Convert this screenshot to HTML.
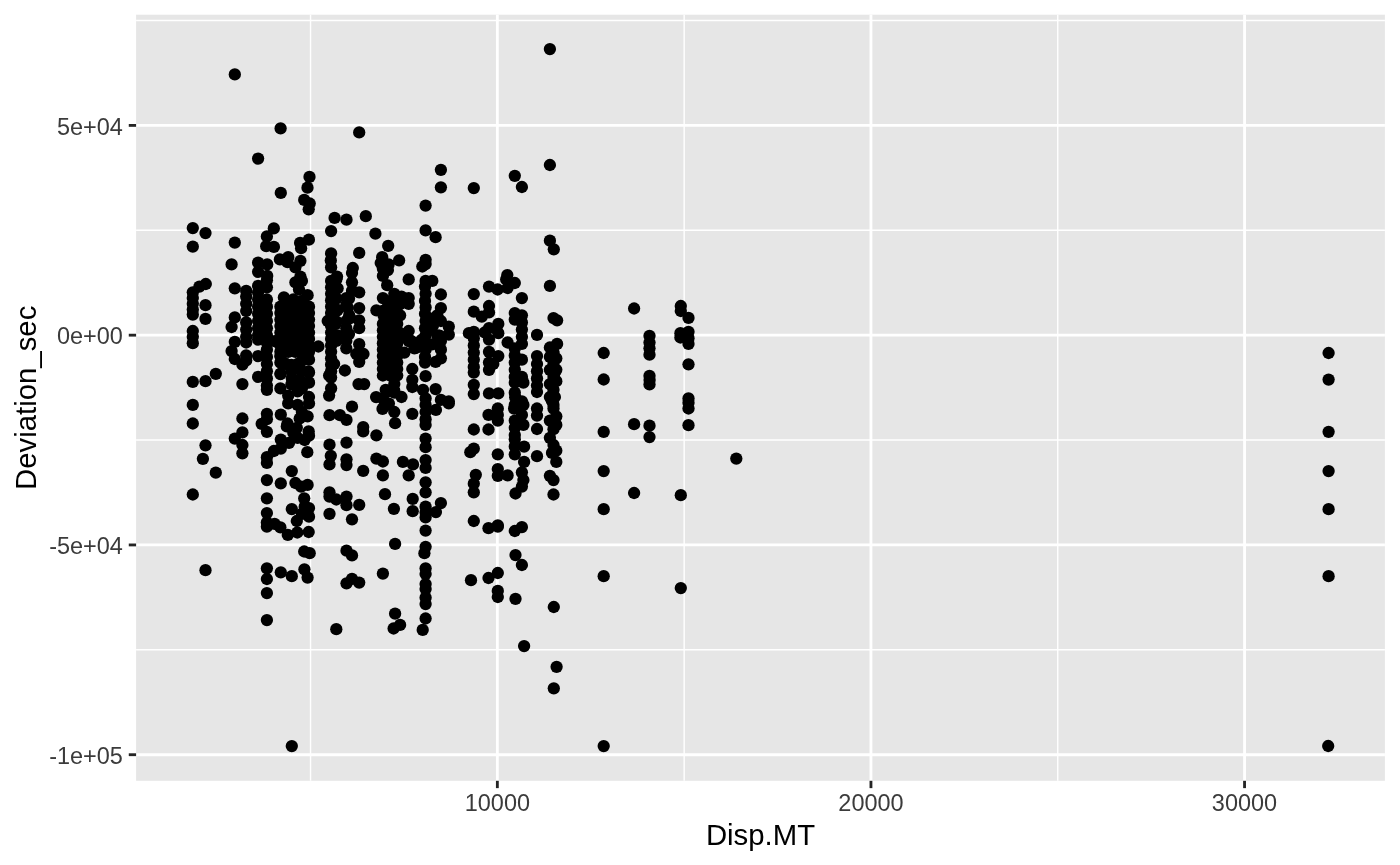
<!DOCTYPE html>
<html><head><meta charset="utf-8"><title>plot</title>
<style>
html,body{margin:0;padding:0;background:#fff;}
svg{display:block}
text{font-family:"Liberation Sans",Arial,Helvetica,sans-serif;}
.at{font-size:23.47px;fill:#3b3b3b}
.tt{font-size:29.33px;fill:#000}
</style></head><body>
<svg width="1400" height="865" viewBox="0 0 1400 865">
<rect width="1400" height="865" fill="#fff"/>
<rect x="136.1" y="14.7" width="1248.8000000000002" height="766.0999999999999" fill="#e6e6e6"/>
<g stroke="#fff" stroke-width="1.42">
<line x1="136.1" x2="1384.9" y1="20.51" y2="20.51"/>
<line x1="136.1" x2="1384.9" y1="230.29" y2="230.29"/>
<line x1="136.1" x2="1384.9" y1="440.06" y2="440.06"/>
<line x1="136.1" x2="1384.9" y1="649.83" y2="649.83"/>
<line y1="14.7" y2="780.8" x1="310.55" x2="310.55"/>
<line y1="14.7" y2="780.8" x1="684.15" x2="684.15"/>
<line y1="14.7" y2="780.8" x1="1057.75" x2="1057.75"/>
</g><g stroke="#fff" stroke-width="2.84">
<line x1="136.1" x2="1384.9" y1="125.40" y2="125.40"/>
<line x1="136.1" x2="1384.9" y1="335.17" y2="335.17"/>
<line x1="136.1" x2="1384.9" y1="544.94" y2="544.94"/>
<line x1="136.1" x2="1384.9" y1="754.71" y2="754.71"/>
<line y1="14.7" y2="780.8" x1="497.35" x2="497.35"/>
<line y1="14.7" y2="780.8" x1="870.95" x2="870.95"/>
<line y1="14.7" y2="780.8" x1="1244.55" x2="1244.55"/>
</g><g stroke="#242424" stroke-width="2.84">
<line x1="128.76999999999998" x2="136.1" y1="125.40" y2="125.40"/>
<line x1="128.76999999999998" x2="136.1" y1="335.17" y2="335.17"/>
<line x1="128.76999999999998" x2="136.1" y1="544.94" y2="544.94"/>
<line x1="128.76999999999998" x2="136.1" y1="754.71" y2="754.71"/>
<line y1="780.8" y2="788.13" x1="497.35" x2="497.35"/>
<line y1="780.8" y2="788.13" x1="870.95" x2="870.95"/>
<line y1="780.8" y2="788.13" x1="1244.55" x2="1244.55"/>
</g>
<text class="at" text-anchor="end" x="122.9" y="134.5">5e+04</text>
<text class="at" text-anchor="end" x="122.9" y="344.3">0e+00</text>
<text class="at" text-anchor="end" x="122.9" y="554.0">-5e+04</text>
<text class="at" text-anchor="end" x="122.9" y="763.8">-1e+05</text>
<text class="at" text-anchor="middle" x="497.4" y="811.3">10000</text>
<text class="at" text-anchor="middle" x="871.0" y="811.3">20000</text>
<text class="at" text-anchor="middle" x="1244.5" y="811.3">30000</text>
<text class="tt" text-anchor="middle" x="760.5" y="845">Disp.MT</text>
<text class="tt" text-anchor="middle" transform="translate(35.5,397.8) rotate(-90)">Deviation_sec</text>
<g fill="#000">
<circle cx="234.8" cy="74.4" r="6.15"/>
<circle cx="280.6" cy="128.4" r="6.15"/>
<circle cx="359.2" cy="132.4" r="6.15"/>
<circle cx="258.1" cy="158.6" r="6.15"/>
<circle cx="309.5" cy="176.9" r="6.15"/>
<circle cx="307.5" cy="187.7" r="6.15"/>
<circle cx="280.8" cy="192.9" r="6.15"/>
<circle cx="304.2" cy="199.9" r="6.15"/>
<circle cx="309.7" cy="203.5" r="6.15"/>
<circle cx="308.7" cy="209.3" r="6.15"/>
<circle cx="334.6" cy="217.9" r="6.15"/>
<circle cx="346.5" cy="219.7" r="6.15"/>
<circle cx="365.8" cy="216.2" r="6.15"/>
<circle cx="192.8" cy="228.1" r="6.15"/>
<circle cx="205.5" cy="233.1" r="6.15"/>
<circle cx="273.8" cy="228.4" r="6.15"/>
<circle cx="266.9" cy="236.4" r="6.15"/>
<circle cx="331.1" cy="231.1" r="6.15"/>
<circle cx="375.4" cy="233.7" r="6.15"/>
<circle cx="192.8" cy="246.6" r="6.15"/>
<circle cx="234.8" cy="242.6" r="6.15"/>
<circle cx="266.2" cy="246.2" r="6.15"/>
<circle cx="273.9" cy="246.9" r="6.15"/>
<circle cx="308.9" cy="239.7" r="6.15"/>
<circle cx="300.1" cy="242.9" r="6.15"/>
<circle cx="301.1" cy="248.2" r="6.15"/>
<circle cx="331.1" cy="253.4" r="6.15"/>
<circle cx="359.2" cy="252.8" r="6.15"/>
<circle cx="279.9" cy="259.4" r="6.15"/>
<circle cx="288.2" cy="257.2" r="6.15"/>
<circle cx="287.5" cy="262.2" r="6.15"/>
<circle cx="300.4" cy="260.8" r="6.15"/>
<circle cx="295.4" cy="267.3" r="6.15"/>
<circle cx="231.6" cy="264.4" r="6.15"/>
<circle cx="258.1" cy="262.7" r="6.15"/>
<circle cx="267.2" cy="264.4" r="6.15"/>
<circle cx="258.1" cy="271.8" r="6.15"/>
<circle cx="267.2" cy="275.9" r="6.15"/>
<circle cx="330.8" cy="260.4" r="6.15"/>
<circle cx="331.1" cy="267.3" r="6.15"/>
<circle cx="352.8" cy="268.0" r="6.15"/>
<circle cx="352.0" cy="273.0" r="6.15"/>
<circle cx="300.4" cy="276.6" r="6.15"/>
<circle cx="337.0" cy="276.6" r="6.15"/>
<circle cx="192.8" cy="292.3" r="6.15"/>
<circle cx="192.8" cy="298.1" r="6.15"/>
<circle cx="192.8" cy="303.8" r="6.15"/>
<circle cx="192.8" cy="309.5" r="6.15"/>
<circle cx="192.8" cy="314.6" r="6.15"/>
<circle cx="199.4" cy="286.6" r="6.15"/>
<circle cx="205.8" cy="284.0" r="6.15"/>
<circle cx="192.8" cy="331.0" r="6.15"/>
<circle cx="192.8" cy="336.8" r="6.15"/>
<circle cx="192.8" cy="343.2" r="6.15"/>
<circle cx="192.8" cy="381.9" r="6.15"/>
<circle cx="205.5" cy="305.2" r="6.15"/>
<circle cx="205.5" cy="318.9" r="6.15"/>
<circle cx="205.5" cy="381.2" r="6.15"/>
<circle cx="215.8" cy="373.8" r="6.15"/>
<circle cx="234.8" cy="288.3" r="6.15"/>
<circle cx="234.8" cy="317.4" r="6.15"/>
<circle cx="231.6" cy="327.0" r="6.15"/>
<circle cx="234.8" cy="341.8" r="6.15"/>
<circle cx="231.6" cy="351.1" r="6.15"/>
<circle cx="234.8" cy="359.0" r="6.15"/>
<circle cx="246.2" cy="290.9" r="6.15"/>
<circle cx="246.2" cy="296.6" r="6.15"/>
<circle cx="246.2" cy="303.8" r="6.15"/>
<circle cx="246.2" cy="311.0" r="6.15"/>
<circle cx="246.2" cy="322.4" r="6.15"/>
<circle cx="246.2" cy="329.6" r="6.15"/>
<circle cx="246.2" cy="336.8" r="6.15"/>
<circle cx="246.2" cy="342.5" r="6.15"/>
<circle cx="246.2" cy="355.4" r="6.15"/>
<circle cx="246.2" cy="360.4" r="6.15"/>
<circle cx="242.4" cy="364.7" r="6.15"/>
<circle cx="242.4" cy="384.1" r="6.15"/>
<circle cx="258.1" cy="285.9" r="6.15"/>
<circle cx="258.1" cy="292.3" r="6.15"/>
<circle cx="258.1" cy="299.5" r="6.15"/>
<circle cx="258.1" cy="306.7" r="6.15"/>
<circle cx="258.1" cy="313.8" r="6.15"/>
<circle cx="258.1" cy="321.0" r="6.15"/>
<circle cx="258.1" cy="328.2" r="6.15"/>
<circle cx="258.1" cy="335.3" r="6.15"/>
<circle cx="258.1" cy="339.6" r="6.15"/>
<circle cx="258.1" cy="356.1" r="6.15"/>
<circle cx="258.1" cy="376.9" r="6.15"/>
<circle cx="266.9" cy="280.2" r="6.15"/>
<circle cx="266.9" cy="287.3" r="6.15"/>
<circle cx="266.9" cy="299.5" r="6.15"/>
<circle cx="266.9" cy="306.7" r="6.15"/>
<circle cx="266.9" cy="313.8" r="6.15"/>
<circle cx="266.9" cy="321.0" r="6.15"/>
<circle cx="266.9" cy="328.2" r="6.15"/>
<circle cx="266.9" cy="335.3" r="6.15"/>
<circle cx="266.9" cy="342.5" r="6.15"/>
<circle cx="266.9" cy="349.7" r="6.15"/>
<circle cx="266.9" cy="356.9" r="6.15"/>
<circle cx="266.9" cy="364.0" r="6.15"/>
<circle cx="266.9" cy="371.2" r="6.15"/>
<circle cx="266.9" cy="378.4" r="6.15"/>
<circle cx="266.9" cy="385.5" r="6.15"/>
<circle cx="266.9" cy="389.8" r="6.15"/>
<circle cx="280.4" cy="306.7" r="6.15"/>
<circle cx="280.4" cy="313.1" r="6.15"/>
<circle cx="280.4" cy="319.6" r="6.15"/>
<circle cx="280.4" cy="326.0" r="6.15"/>
<circle cx="280.4" cy="332.5" r="6.15"/>
<circle cx="280.4" cy="338.9" r="6.15"/>
<circle cx="280.4" cy="345.4" r="6.15"/>
<circle cx="280.4" cy="351.8" r="6.15"/>
<circle cx="288.2" cy="306.7" r="6.15"/>
<circle cx="288.2" cy="313.1" r="6.15"/>
<circle cx="288.2" cy="319.6" r="6.15"/>
<circle cx="288.2" cy="326.0" r="6.15"/>
<circle cx="288.2" cy="332.5" r="6.15"/>
<circle cx="288.2" cy="338.9" r="6.15"/>
<circle cx="288.2" cy="345.4" r="6.15"/>
<circle cx="288.2" cy="351.8" r="6.15"/>
<circle cx="295.4" cy="306.7" r="6.15"/>
<circle cx="295.4" cy="313.1" r="6.15"/>
<circle cx="295.4" cy="319.6" r="6.15"/>
<circle cx="295.4" cy="326.0" r="6.15"/>
<circle cx="295.4" cy="332.5" r="6.15"/>
<circle cx="295.4" cy="338.9" r="6.15"/>
<circle cx="295.4" cy="345.4" r="6.15"/>
<circle cx="295.4" cy="351.8" r="6.15"/>
<circle cx="301.9" cy="306.7" r="6.15"/>
<circle cx="301.9" cy="313.1" r="6.15"/>
<circle cx="301.9" cy="319.6" r="6.15"/>
<circle cx="301.9" cy="326.0" r="6.15"/>
<circle cx="301.9" cy="332.5" r="6.15"/>
<circle cx="301.9" cy="338.9" r="6.15"/>
<circle cx="301.9" cy="345.4" r="6.15"/>
<circle cx="301.9" cy="351.8" r="6.15"/>
<circle cx="309.0" cy="306.7" r="6.15"/>
<circle cx="309.0" cy="313.1" r="6.15"/>
<circle cx="309.0" cy="319.6" r="6.15"/>
<circle cx="309.0" cy="326.0" r="6.15"/>
<circle cx="309.0" cy="332.5" r="6.15"/>
<circle cx="309.0" cy="338.9" r="6.15"/>
<circle cx="309.0" cy="345.4" r="6.15"/>
<circle cx="309.0" cy="351.8" r="6.15"/>
<circle cx="295.4" cy="282.3" r="6.15"/>
<circle cx="301.9" cy="280.9" r="6.15"/>
<circle cx="299.0" cy="289.5" r="6.15"/>
<circle cx="307.6" cy="295.2" r="6.15"/>
<circle cx="283.9" cy="297.4" r="6.15"/>
<circle cx="293.3" cy="299.5" r="6.15"/>
<circle cx="301.9" cy="300.9" r="6.15"/>
<circle cx="280.4" cy="356.1" r="6.15"/>
<circle cx="280.4" cy="362.6" r="6.15"/>
<circle cx="280.4" cy="374.1" r="6.15"/>
<circle cx="280.4" cy="388.4" r="6.15"/>
<circle cx="274.6" cy="341.1" r="6.15"/>
<circle cx="309.0" cy="359.7" r="6.15"/>
<circle cx="297.6" cy="364.0" r="6.15"/>
<circle cx="309.0" cy="372.6" r="6.15"/>
<circle cx="291.8" cy="371.2" r="6.15"/>
<circle cx="301.9" cy="371.2" r="6.15"/>
<circle cx="291.8" cy="378.4" r="6.15"/>
<circle cx="309.0" cy="382.7" r="6.15"/>
<circle cx="297.6" cy="384.1" r="6.15"/>
<circle cx="301.9" cy="388.4" r="6.15"/>
<circle cx="297.6" cy="391.3" r="6.15"/>
<circle cx="288.2" cy="395.6" r="6.15"/>
<circle cx="309.0" cy="397.0" r="6.15"/>
<circle cx="286.1" cy="364.0" r="6.15"/>
<circle cx="318.4" cy="346.5" r="6.15"/>
<circle cx="331.1" cy="280.9" r="6.15"/>
<circle cx="331.1" cy="287.3" r="6.15"/>
<circle cx="331.1" cy="293.8" r="6.15"/>
<circle cx="331.1" cy="300.2" r="6.15"/>
<circle cx="331.1" cy="306.7" r="6.15"/>
<circle cx="331.1" cy="313.1" r="6.15"/>
<circle cx="331.1" cy="319.6" r="6.15"/>
<circle cx="331.1" cy="326.0" r="6.15"/>
<circle cx="331.1" cy="332.5" r="6.15"/>
<circle cx="331.1" cy="338.9" r="6.15"/>
<circle cx="331.1" cy="345.4" r="6.15"/>
<circle cx="331.1" cy="351.8" r="6.15"/>
<circle cx="331.1" cy="358.3" r="6.15"/>
<circle cx="331.1" cy="364.7" r="6.15"/>
<circle cx="331.1" cy="371.2" r="6.15"/>
<circle cx="331.1" cy="377.6" r="6.15"/>
<circle cx="334.8" cy="283.7" r="6.15"/>
<circle cx="334.1" cy="296.6" r="6.15"/>
<circle cx="336.3" cy="311.0" r="6.15"/>
<circle cx="337.7" cy="335.3" r="6.15"/>
<circle cx="334.1" cy="364.0" r="6.15"/>
<circle cx="329.1" cy="375.5" r="6.15"/>
<circle cx="331.1" cy="388.4" r="6.15"/>
<circle cx="329.1" cy="395.6" r="6.15"/>
<circle cx="327.7" cy="321.0" r="6.15"/>
<circle cx="335.6" cy="323.9" r="6.15"/>
<circle cx="352.0" cy="282.3" r="6.15"/>
<circle cx="359.2" cy="292.3" r="6.15"/>
<circle cx="346.3" cy="298.1" r="6.15"/>
<circle cx="346.3" cy="305.2" r="6.15"/>
<circle cx="359.2" cy="308.1" r="6.15"/>
<circle cx="349.2" cy="315.3" r="6.15"/>
<circle cx="359.2" cy="320.3" r="6.15"/>
<circle cx="346.3" cy="321.0" r="6.15"/>
<circle cx="359.2" cy="328.2" r="6.15"/>
<circle cx="346.3" cy="328.2" r="6.15"/>
<circle cx="346.3" cy="335.3" r="6.15"/>
<circle cx="346.3" cy="341.1" r="6.15"/>
<circle cx="346.3" cy="348.3" r="6.15"/>
<circle cx="359.2" cy="344.2" r="6.15"/>
<circle cx="356.3" cy="354.0" r="6.15"/>
<circle cx="363.5" cy="354.0" r="6.15"/>
<circle cx="359.2" cy="361.9" r="6.15"/>
<circle cx="344.9" cy="370.5" r="6.15"/>
<circle cx="358.5" cy="384.1" r="6.15"/>
<circle cx="364.2" cy="384.1" r="6.15"/>
<circle cx="352.0" cy="290.9" r="6.15"/>
<circle cx="376.4" cy="310.3" r="6.15"/>
<circle cx="192.8" cy="404.9" r="6.15"/>
<circle cx="192.8" cy="423.5" r="6.15"/>
<circle cx="192.8" cy="494.5" r="6.15"/>
<circle cx="205.5" cy="445.3" r="6.15"/>
<circle cx="202.9" cy="458.8" r="6.15"/>
<circle cx="215.8" cy="472.7" r="6.15"/>
<circle cx="242.4" cy="418.5" r="6.15"/>
<circle cx="242.4" cy="432.4" r="6.15"/>
<circle cx="234.8" cy="438.6" r="6.15"/>
<circle cx="242.4" cy="445.0" r="6.15"/>
<circle cx="242.4" cy="453.3" r="6.15"/>
<circle cx="266.9" cy="413.8" r="6.15"/>
<circle cx="261.7" cy="423.8" r="6.15"/>
<circle cx="266.9" cy="419.2" r="6.15"/>
<circle cx="266.9" cy="431.8" r="6.15"/>
<circle cx="266.9" cy="457.2" r="6.15"/>
<circle cx="266.9" cy="462.9" r="6.15"/>
<circle cx="266.9" cy="480.1" r="6.15"/>
<circle cx="266.9" cy="498.3" r="6.15"/>
<circle cx="266.9" cy="513.1" r="6.15"/>
<circle cx="266.9" cy="522.4" r="6.15"/>
<circle cx="274.6" cy="523.9" r="6.15"/>
<circle cx="280.8" cy="414.6" r="6.15"/>
<circle cx="287.5" cy="423.5" r="6.15"/>
<circle cx="286.8" cy="426.4" r="6.15"/>
<circle cx="280.8" cy="439.6" r="6.15"/>
<circle cx="289.0" cy="442.9" r="6.15"/>
<circle cx="280.8" cy="448.6" r="6.15"/>
<circle cx="273.9" cy="451.0" r="6.15"/>
<circle cx="288.2" cy="403.4" r="6.15"/>
<circle cx="297.6" cy="404.9" r="6.15"/>
<circle cx="309.0" cy="403.4" r="6.15"/>
<circle cx="301.9" cy="412.0" r="6.15"/>
<circle cx="307.6" cy="416.3" r="6.15"/>
<circle cx="299.7" cy="418.5" r="6.15"/>
<circle cx="296.8" cy="427.8" r="6.15"/>
<circle cx="293.3" cy="432.8" r="6.15"/>
<circle cx="297.6" cy="437.8" r="6.15"/>
<circle cx="304.7" cy="440.0" r="6.15"/>
<circle cx="308.7" cy="431.4" r="6.15"/>
<circle cx="309.0" cy="435.7" r="6.15"/>
<circle cx="307.3" cy="452.2" r="6.15"/>
<circle cx="291.8" cy="471.1" r="6.15"/>
<circle cx="280.8" cy="483.3" r="6.15"/>
<circle cx="295.4" cy="483.0" r="6.15"/>
<circle cx="301.1" cy="486.6" r="6.15"/>
<circle cx="307.6" cy="484.9" r="6.15"/>
<circle cx="304.2" cy="498.3" r="6.15"/>
<circle cx="291.8" cy="509.1" r="6.15"/>
<circle cx="304.7" cy="506.7" r="6.15"/>
<circle cx="309.0" cy="508.1" r="6.15"/>
<circle cx="309.0" cy="516.7" r="6.15"/>
<circle cx="296.8" cy="521.0" r="6.15"/>
<circle cx="301.9" cy="513.8" r="6.15"/>
<circle cx="329.5" cy="415.2" r="6.15"/>
<circle cx="339.9" cy="415.2" r="6.15"/>
<circle cx="346.5" cy="419.9" r="6.15"/>
<circle cx="352.0" cy="406.7" r="6.15"/>
<circle cx="363.2" cy="427.1" r="6.15"/>
<circle cx="363.2" cy="431.4" r="6.15"/>
<circle cx="376.4" cy="435.3" r="6.15"/>
<circle cx="329.5" cy="444.7" r="6.15"/>
<circle cx="346.5" cy="442.6" r="6.15"/>
<circle cx="330.8" cy="455.8" r="6.15"/>
<circle cx="329.5" cy="464.4" r="6.15"/>
<circle cx="346.5" cy="459.3" r="6.15"/>
<circle cx="346.5" cy="465.1" r="6.15"/>
<circle cx="363.2" cy="470.8" r="6.15"/>
<circle cx="376.4" cy="458.6" r="6.15"/>
<circle cx="329.5" cy="492.3" r="6.15"/>
<circle cx="329.5" cy="496.6" r="6.15"/>
<circle cx="336.3" cy="499.5" r="6.15"/>
<circle cx="346.5" cy="496.6" r="6.15"/>
<circle cx="346.5" cy="505.2" r="6.15"/>
<circle cx="359.2" cy="504.9" r="6.15"/>
<circle cx="329.5" cy="513.8" r="6.15"/>
<circle cx="352.0" cy="519.3" r="6.15"/>
<circle cx="266.9" cy="526.7" r="6.15"/>
<circle cx="280.4" cy="527.4" r="6.15"/>
<circle cx="287.8" cy="534.9" r="6.15"/>
<circle cx="297.3" cy="532.5" r="6.15"/>
<circle cx="308.7" cy="532.0" r="6.15"/>
<circle cx="304.2" cy="551.5" r="6.15"/>
<circle cx="309.7" cy="553.2" r="6.15"/>
<circle cx="346.5" cy="550.7" r="6.15"/>
<circle cx="352.0" cy="555.4" r="6.15"/>
<circle cx="205.5" cy="570.2" r="6.15"/>
<circle cx="266.9" cy="568.3" r="6.15"/>
<circle cx="266.9" cy="579.0" r="6.15"/>
<circle cx="280.8" cy="572.3" r="6.15"/>
<circle cx="291.8" cy="576.2" r="6.15"/>
<circle cx="304.4" cy="569.3" r="6.15"/>
<circle cx="307.6" cy="577.6" r="6.15"/>
<circle cx="346.5" cy="583.3" r="6.15"/>
<circle cx="352.0" cy="578.8" r="6.15"/>
<circle cx="359.2" cy="582.6" r="6.15"/>
<circle cx="266.9" cy="593.1" r="6.15"/>
<circle cx="266.9" cy="620.1" r="6.15"/>
<circle cx="336.3" cy="629.2" r="6.15"/>
<circle cx="291.8" cy="746.1" r="6.15"/>
<circle cx="549.9" cy="49.1" r="6.15"/>
<circle cx="440.9" cy="169.8" r="6.15"/>
<circle cx="440.9" cy="187.3" r="6.15"/>
<circle cx="473.8" cy="188.1" r="6.15"/>
<circle cx="514.8" cy="175.8" r="6.15"/>
<circle cx="521.9" cy="187.0" r="6.15"/>
<circle cx="549.9" cy="165.0" r="6.15"/>
<circle cx="425.6" cy="205.6" r="6.15"/>
<circle cx="425.6" cy="230.4" r="6.15"/>
<circle cx="435.6" cy="237.2" r="6.15"/>
<circle cx="549.9" cy="240.7" r="6.15"/>
<circle cx="553.8" cy="249.3" r="6.15"/>
<circle cx="388.2" cy="245.8" r="6.15"/>
<circle cx="399.1" cy="260.4" r="6.15"/>
<circle cx="425.6" cy="259.8" r="6.15"/>
<circle cx="425.6" cy="264.1" r="6.15"/>
<circle cx="422.3" cy="266.5" r="6.15"/>
<circle cx="382.2" cy="257.2" r="6.15"/>
<circle cx="388.6" cy="264.4" r="6.15"/>
<circle cx="382.9" cy="268.7" r="6.15"/>
<circle cx="387.9" cy="270.1" r="6.15"/>
<circle cx="382.9" cy="275.9" r="6.15"/>
<circle cx="507.3" cy="275.1" r="6.15"/>
<circle cx="380.7" cy="263.0" r="6.15"/>
<circle cx="408.7" cy="279.4" r="6.15"/>
<circle cx="425.6" cy="280.9" r="6.15"/>
<circle cx="432.3" cy="280.9" r="6.15"/>
<circle cx="387.2" cy="285.2" r="6.15"/>
<circle cx="382.9" cy="298.1" r="6.15"/>
<circle cx="394.3" cy="293.8" r="6.15"/>
<circle cx="401.5" cy="296.6" r="6.15"/>
<circle cx="408.7" cy="298.1" r="6.15"/>
<circle cx="408.7" cy="303.8" r="6.15"/>
<circle cx="391.5" cy="305.2" r="6.15"/>
<circle cx="382.9" cy="311.0" r="6.15"/>
<circle cx="394.3" cy="312.4" r="6.15"/>
<circle cx="400.1" cy="315.3" r="6.15"/>
<circle cx="382.9" cy="323.9" r="6.15"/>
<circle cx="382.9" cy="330.3" r="6.15"/>
<circle cx="382.9" cy="336.8" r="6.15"/>
<circle cx="382.9" cy="343.2" r="6.15"/>
<circle cx="382.9" cy="349.7" r="6.15"/>
<circle cx="382.9" cy="356.1" r="6.15"/>
<circle cx="382.9" cy="362.6" r="6.15"/>
<circle cx="382.9" cy="369.0" r="6.15"/>
<circle cx="382.9" cy="375.5" r="6.15"/>
<circle cx="390.0" cy="323.9" r="6.15"/>
<circle cx="390.0" cy="330.3" r="6.15"/>
<circle cx="390.0" cy="336.8" r="6.15"/>
<circle cx="390.0" cy="343.2" r="6.15"/>
<circle cx="390.0" cy="349.7" r="6.15"/>
<circle cx="390.0" cy="356.1" r="6.15"/>
<circle cx="390.0" cy="362.6" r="6.15"/>
<circle cx="390.0" cy="369.0" r="6.15"/>
<circle cx="390.0" cy="375.5" r="6.15"/>
<circle cx="397.2" cy="323.9" r="6.15"/>
<circle cx="397.2" cy="330.3" r="6.15"/>
<circle cx="397.2" cy="336.8" r="6.15"/>
<circle cx="397.2" cy="343.2" r="6.15"/>
<circle cx="397.2" cy="349.7" r="6.15"/>
<circle cx="397.2" cy="356.1" r="6.15"/>
<circle cx="397.2" cy="362.6" r="6.15"/>
<circle cx="397.2" cy="369.0" r="6.15"/>
<circle cx="397.2" cy="375.5" r="6.15"/>
<circle cx="408.7" cy="331.0" r="6.15"/>
<circle cx="408.7" cy="341.1" r="6.15"/>
<circle cx="404.4" cy="352.6" r="6.15"/>
<circle cx="414.4" cy="348.3" r="6.15"/>
<circle cx="394.3" cy="384.1" r="6.15"/>
<circle cx="385.7" cy="389.8" r="6.15"/>
<circle cx="394.3" cy="392.7" r="6.15"/>
<circle cx="401.5" cy="397.0" r="6.15"/>
<circle cx="382.9" cy="398.4" r="6.15"/>
<circle cx="412.3" cy="369.0" r="6.15"/>
<circle cx="412.3" cy="379.8" r="6.15"/>
<circle cx="412.3" cy="387.0" r="6.15"/>
<circle cx="425.0" cy="286.6" r="6.15"/>
<circle cx="425.6" cy="293.8" r="6.15"/>
<circle cx="425.0" cy="300.9" r="6.15"/>
<circle cx="425.6" cy="307.4" r="6.15"/>
<circle cx="425.0" cy="313.8" r="6.15"/>
<circle cx="425.6" cy="321.0" r="6.15"/>
<circle cx="425.0" cy="328.2" r="6.15"/>
<circle cx="425.6" cy="335.3" r="6.15"/>
<circle cx="425.0" cy="342.5" r="6.15"/>
<circle cx="425.6" cy="349.7" r="6.15"/>
<circle cx="425.0" cy="356.9" r="6.15"/>
<circle cx="425.0" cy="362.6" r="6.15"/>
<circle cx="425.6" cy="376.2" r="6.15"/>
<circle cx="423.0" cy="389.8" r="6.15"/>
<circle cx="425.6" cy="398.4" r="6.15"/>
<circle cx="435.6" cy="389.1" r="6.15"/>
<circle cx="440.9" cy="399.9" r="6.15"/>
<circle cx="448.8" cy="401.3" r="6.15"/>
<circle cx="440.9" cy="294.5" r="6.15"/>
<circle cx="440.9" cy="308.1" r="6.15"/>
<circle cx="437.3" cy="315.3" r="6.15"/>
<circle cx="440.9" cy="321.0" r="6.15"/>
<circle cx="448.8" cy="326.7" r="6.15"/>
<circle cx="448.8" cy="334.6" r="6.15"/>
<circle cx="437.3" cy="335.3" r="6.15"/>
<circle cx="440.9" cy="341.1" r="6.15"/>
<circle cx="440.9" cy="349.7" r="6.15"/>
<circle cx="440.9" cy="358.3" r="6.15"/>
<circle cx="435.6" cy="361.9" r="6.15"/>
<circle cx="433.0" cy="325.3" r="6.15"/>
<circle cx="473.8" cy="294.1" r="6.15"/>
<circle cx="473.8" cy="311.7" r="6.15"/>
<circle cx="481.8" cy="316.7" r="6.15"/>
<circle cx="489.0" cy="312.4" r="6.15"/>
<circle cx="489.0" cy="306.0" r="6.15"/>
<circle cx="473.8" cy="331.8" r="6.15"/>
<circle cx="468.9" cy="333.2" r="6.15"/>
<circle cx="473.8" cy="338.2" r="6.15"/>
<circle cx="473.8" cy="345.4" r="6.15"/>
<circle cx="473.8" cy="352.6" r="6.15"/>
<circle cx="473.8" cy="359.7" r="6.15"/>
<circle cx="473.8" cy="366.9" r="6.15"/>
<circle cx="473.8" cy="372.6" r="6.15"/>
<circle cx="473.8" cy="384.8" r="6.15"/>
<circle cx="473.8" cy="394.1" r="6.15"/>
<circle cx="489.0" cy="286.6" r="6.15"/>
<circle cx="497.6" cy="289.5" r="6.15"/>
<circle cx="507.6" cy="288.0" r="6.15"/>
<circle cx="514.8" cy="283.0" r="6.15"/>
<circle cx="506.2" cy="279.4" r="6.15"/>
<circle cx="498.3" cy="323.9" r="6.15"/>
<circle cx="489.0" cy="328.2" r="6.15"/>
<circle cx="498.3" cy="333.2" r="6.15"/>
<circle cx="489.0" cy="339.6" r="6.15"/>
<circle cx="484.7" cy="332.5" r="6.15"/>
<circle cx="489.0" cy="351.8" r="6.15"/>
<circle cx="498.3" cy="356.1" r="6.15"/>
<circle cx="489.0" cy="362.6" r="6.15"/>
<circle cx="493.3" cy="364.0" r="6.15"/>
<circle cx="489.0" cy="369.8" r="6.15"/>
<circle cx="489.0" cy="393.4" r="6.15"/>
<circle cx="498.3" cy="393.4" r="6.15"/>
<circle cx="521.9" cy="298.1" r="6.15"/>
<circle cx="514.8" cy="313.1" r="6.15"/>
<circle cx="521.9" cy="315.3" r="6.15"/>
<circle cx="514.8" cy="319.6" r="6.15"/>
<circle cx="521.9" cy="322.4" r="6.15"/>
<circle cx="521.9" cy="329.6" r="6.15"/>
<circle cx="521.9" cy="336.8" r="6.15"/>
<circle cx="521.9" cy="343.9" r="6.15"/>
<circle cx="507.6" cy="342.5" r="6.15"/>
<circle cx="514.8" cy="348.3" r="6.15"/>
<circle cx="514.8" cy="355.4" r="6.15"/>
<circle cx="521.9" cy="359.7" r="6.15"/>
<circle cx="514.8" cy="362.6" r="6.15"/>
<circle cx="514.8" cy="369.8" r="6.15"/>
<circle cx="521.9" cy="376.9" r="6.15"/>
<circle cx="514.8" cy="376.9" r="6.15"/>
<circle cx="514.8" cy="382.7" r="6.15"/>
<circle cx="523.4" cy="382.7" r="6.15"/>
<circle cx="514.8" cy="392.7" r="6.15"/>
<circle cx="521.9" cy="401.3" r="6.15"/>
<circle cx="537.0" cy="334.9" r="6.15"/>
<circle cx="537.0" cy="356.1" r="6.15"/>
<circle cx="537.0" cy="364.0" r="6.15"/>
<circle cx="537.0" cy="371.2" r="6.15"/>
<circle cx="537.0" cy="378.4" r="6.15"/>
<circle cx="537.0" cy="385.5" r="6.15"/>
<circle cx="537.0" cy="392.0" r="6.15"/>
<circle cx="549.9" cy="285.9" r="6.15"/>
<circle cx="553.5" cy="318.1" r="6.15"/>
<circle cx="557.1" cy="320.3" r="6.15"/>
<circle cx="557.1" cy="343.9" r="6.15"/>
<circle cx="549.9" cy="347.5" r="6.15"/>
<circle cx="553.5" cy="352.6" r="6.15"/>
<circle cx="549.9" cy="356.9" r="6.15"/>
<circle cx="556.3" cy="358.3" r="6.15"/>
<circle cx="553.5" cy="364.0" r="6.15"/>
<circle cx="549.9" cy="369.8" r="6.15"/>
<circle cx="556.3" cy="369.8" r="6.15"/>
<circle cx="553.5" cy="376.9" r="6.15"/>
<circle cx="549.9" cy="384.1" r="6.15"/>
<circle cx="556.3" cy="381.2" r="6.15"/>
<circle cx="553.5" cy="389.8" r="6.15"/>
<circle cx="549.9" cy="397.0" r="6.15"/>
<circle cx="554.9" cy="397.0" r="6.15"/>
<circle cx="384.3" cy="406.3" r="6.15"/>
<circle cx="394.3" cy="412.0" r="6.15"/>
<circle cx="395.1" cy="423.2" r="6.15"/>
<circle cx="412.3" cy="413.8" r="6.15"/>
<circle cx="382.9" cy="461.5" r="6.15"/>
<circle cx="382.9" cy="475.4" r="6.15"/>
<circle cx="385.0" cy="494.2" r="6.15"/>
<circle cx="393.9" cy="508.8" r="6.15"/>
<circle cx="402.9" cy="461.9" r="6.15"/>
<circle cx="413.0" cy="464.4" r="6.15"/>
<circle cx="408.7" cy="475.4" r="6.15"/>
<circle cx="412.7" cy="498.9" r="6.15"/>
<circle cx="412.7" cy="511.2" r="6.15"/>
<circle cx="425.6" cy="404.9" r="6.15"/>
<circle cx="425.6" cy="412.0" r="6.15"/>
<circle cx="425.6" cy="419.2" r="6.15"/>
<circle cx="425.6" cy="424.9" r="6.15"/>
<circle cx="425.6" cy="438.6" r="6.15"/>
<circle cx="425.6" cy="447.2" r="6.15"/>
<circle cx="425.6" cy="460.1" r="6.15"/>
<circle cx="425.6" cy="467.9" r="6.15"/>
<circle cx="425.6" cy="482.3" r="6.15"/>
<circle cx="425.6" cy="492.3" r="6.15"/>
<circle cx="425.6" cy="506.7" r="6.15"/>
<circle cx="425.6" cy="512.4" r="6.15"/>
<circle cx="425.6" cy="517.4" r="6.15"/>
<circle cx="435.9" cy="409.9" r="6.15"/>
<circle cx="448.8" cy="403.4" r="6.15"/>
<circle cx="440.9" cy="503.1" r="6.15"/>
<circle cx="435.9" cy="512.1" r="6.15"/>
<circle cx="473.8" cy="429.5" r="6.15"/>
<circle cx="473.8" cy="448.6" r="6.15"/>
<circle cx="470.3" cy="452.2" r="6.15"/>
<circle cx="475.8" cy="474.8" r="6.15"/>
<circle cx="473.8" cy="483.7" r="6.15"/>
<circle cx="473.8" cy="492.3" r="6.15"/>
<circle cx="473.8" cy="521.0" r="6.15"/>
<circle cx="488.5" cy="414.9" r="6.15"/>
<circle cx="488.5" cy="429.5" r="6.15"/>
<circle cx="497.8" cy="408.5" r="6.15"/>
<circle cx="497.8" cy="414.9" r="6.15"/>
<circle cx="497.8" cy="420.6" r="6.15"/>
<circle cx="497.8" cy="454.3" r="6.15"/>
<circle cx="497.8" cy="469.1" r="6.15"/>
<circle cx="497.8" cy="475.8" r="6.15"/>
<circle cx="507.6" cy="475.4" r="6.15"/>
<circle cx="497.8" cy="525.3" r="6.15"/>
<circle cx="514.8" cy="404.9" r="6.15"/>
<circle cx="523.4" cy="404.9" r="6.15"/>
<circle cx="521.9" cy="414.9" r="6.15"/>
<circle cx="514.8" cy="420.6" r="6.15"/>
<circle cx="523.4" cy="424.9" r="6.15"/>
<circle cx="514.8" cy="435.0" r="6.15"/>
<circle cx="514.8" cy="439.3" r="6.15"/>
<circle cx="514.8" cy="446.4" r="6.15"/>
<circle cx="524.1" cy="446.7" r="6.15"/>
<circle cx="514.8" cy="454.3" r="6.15"/>
<circle cx="524.1" cy="461.9" r="6.15"/>
<circle cx="521.9" cy="472.3" r="6.15"/>
<circle cx="523.4" cy="480.1" r="6.15"/>
<circle cx="521.9" cy="486.6" r="6.15"/>
<circle cx="515.5" cy="493.5" r="6.15"/>
<circle cx="514.8" cy="427.8" r="6.15"/>
<circle cx="537.0" cy="408.5" r="6.15"/>
<circle cx="537.0" cy="415.6" r="6.15"/>
<circle cx="537.0" cy="429.0" r="6.15"/>
<circle cx="537.0" cy="456.2" r="6.15"/>
<circle cx="553.5" cy="404.9" r="6.15"/>
<circle cx="556.3" cy="416.3" r="6.15"/>
<circle cx="549.9" cy="420.6" r="6.15"/>
<circle cx="556.3" cy="424.9" r="6.15"/>
<circle cx="553.5" cy="429.2" r="6.15"/>
<circle cx="549.9" cy="437.8" r="6.15"/>
<circle cx="553.5" cy="445.0" r="6.15"/>
<circle cx="556.3" cy="450.7" r="6.15"/>
<circle cx="552.0" cy="452.9" r="6.15"/>
<circle cx="556.3" cy="461.9" r="6.15"/>
<circle cx="549.9" cy="475.8" r="6.15"/>
<circle cx="553.5" cy="480.1" r="6.15"/>
<circle cx="553.5" cy="494.5" r="6.15"/>
<circle cx="425.6" cy="530.6" r="6.15"/>
<circle cx="395.1" cy="543.9" r="6.15"/>
<circle cx="425.6" cy="546.8" r="6.15"/>
<circle cx="424.4" cy="553.2" r="6.15"/>
<circle cx="425.6" cy="568.3" r="6.15"/>
<circle cx="425.6" cy="574.0" r="6.15"/>
<circle cx="425.6" cy="584.1" r="6.15"/>
<circle cx="425.6" cy="589.1" r="6.15"/>
<circle cx="425.6" cy="597.7" r="6.15"/>
<circle cx="425.6" cy="604.1" r="6.15"/>
<circle cx="425.6" cy="618.5" r="6.15"/>
<circle cx="422.7" cy="629.9" r="6.15"/>
<circle cx="382.9" cy="573.6" r="6.15"/>
<circle cx="395.1" cy="613.7" r="6.15"/>
<circle cx="400.1" cy="624.9" r="6.15"/>
<circle cx="393.6" cy="628.5" r="6.15"/>
<circle cx="488.5" cy="528.2" r="6.15"/>
<circle cx="497.8" cy="526.7" r="6.15"/>
<circle cx="514.8" cy="531.0" r="6.15"/>
<circle cx="521.9" cy="527.1" r="6.15"/>
<circle cx="515.5" cy="555.1" r="6.15"/>
<circle cx="521.9" cy="565.0" r="6.15"/>
<circle cx="497.8" cy="573.0" r="6.15"/>
<circle cx="488.5" cy="578.0" r="6.15"/>
<circle cx="471.0" cy="580.2" r="6.15"/>
<circle cx="497.8" cy="590.9" r="6.15"/>
<circle cx="497.8" cy="597.0" r="6.15"/>
<circle cx="515.5" cy="598.8" r="6.15"/>
<circle cx="553.8" cy="607.0" r="6.15"/>
<circle cx="524.1" cy="646.1" r="6.15"/>
<circle cx="556.6" cy="666.8" r="6.15"/>
<circle cx="553.8" cy="688.3" r="6.15"/>
<circle cx="634.1" cy="308.5" r="6.15"/>
<circle cx="680.8" cy="306.0" r="6.15"/>
<circle cx="680.8" cy="311.0" r="6.15"/>
<circle cx="688.5" cy="317.9" r="6.15"/>
<circle cx="688.5" cy="331.8" r="6.15"/>
<circle cx="680.4" cy="333.2" r="6.15"/>
<circle cx="680.4" cy="337.5" r="6.15"/>
<circle cx="688.5" cy="338.2" r="6.15"/>
<circle cx="688.5" cy="343.9" r="6.15"/>
<circle cx="688.5" cy="364.3" r="6.15"/>
<circle cx="688.5" cy="398.4" r="6.15"/>
<circle cx="649.5" cy="335.8" r="6.15"/>
<circle cx="649.5" cy="342.5" r="6.15"/>
<circle cx="649.5" cy="348.3" r="6.15"/>
<circle cx="649.5" cy="354.7" r="6.15"/>
<circle cx="649.5" cy="375.8" r="6.15"/>
<circle cx="649.5" cy="384.4" r="6.15"/>
<circle cx="603.7" cy="353.0" r="6.15"/>
<circle cx="603.7" cy="379.5" r="6.15"/>
<circle cx="688.5" cy="402.7" r="6.15"/>
<circle cx="688.5" cy="408.5" r="6.15"/>
<circle cx="688.5" cy="425.2" r="6.15"/>
<circle cx="634.1" cy="424.2" r="6.15"/>
<circle cx="649.5" cy="425.7" r="6.15"/>
<circle cx="649.5" cy="437.1" r="6.15"/>
<circle cx="603.7" cy="431.8" r="6.15"/>
<circle cx="736.3" cy="458.6" r="6.15"/>
<circle cx="603.7" cy="471.1" r="6.15"/>
<circle cx="634.1" cy="493.0" r="6.15"/>
<circle cx="680.8" cy="495.2" r="6.15"/>
<circle cx="603.7" cy="509.2" r="6.15"/>
<circle cx="603.7" cy="576.2" r="6.15"/>
<circle cx="680.8" cy="588.1" r="6.15"/>
<circle cx="603.7" cy="746.1" r="6.15"/>
<circle cx="1328.6" cy="353.0" r="6.15"/>
<circle cx="1328.6" cy="379.6" r="6.15"/>
<circle cx="1328.6" cy="431.8" r="6.15"/>
<circle cx="1328.6" cy="471.1" r="6.15"/>
<circle cx="1328.6" cy="509.2" r="6.15"/>
<circle cx="1328.6" cy="576.2" r="6.15"/>
<circle cx="1328.2" cy="746.0" r="6.15"/>
<circle cx="376.1" cy="397.1" r="6.15"/>
<circle cx="386.8" cy="391.8" r="6.15"/>
<circle cx="388.9" cy="403.6" r="6.15"/>
<circle cx="382.5" cy="408.9" r="6.15"/>
<circle cx="280.7" cy="356.4" r="6.15"/>
<circle cx="291.4" cy="365.0" r="6.15"/>
<circle cx="302.1" cy="360.7" r="6.15"/>
<circle cx="308.6" cy="371.4" r="6.15"/>
<circle cx="280.7" cy="373.6" r="6.15"/>
<circle cx="300.0" cy="380.0" r="6.15"/>
<circle cx="291.4" cy="384.3" r="6.15"/>
<circle cx="308.6" cy="382.1" r="6.15"/>
<circle cx="300.0" cy="388.6" r="6.15"/>
<circle cx="394.3" cy="390.7" r="6.15"/>
<circle cx="410.3" cy="340.4" r="6.15"/>
<circle cx="415.7" cy="347.9" r="6.15"/>
<circle cx="336.4" cy="279.2" r="6.15"/>
<circle cx="337.6" cy="288.3" r="6.15"/>
<circle cx="336.4" cy="298.6" r="6.15"/>
<circle cx="337.6" cy="310.0" r="6.15"/>
<circle cx="336.4" cy="321.5" r="6.15"/>
<circle cx="349.0" cy="298.6" r="6.15"/>
<circle cx="347.8" cy="307.8" r="6.15"/>
<circle cx="350.1" cy="318.1" r="6.15"/>
<circle cx="344.4" cy="338.6" r="6.15"/>
<circle cx="349.0" cy="334.1" r="6.15"/>
<circle cx="333.0" cy="334.1" r="6.15"/>
<circle cx="336.4" cy="340.9" r="6.15"/>
<circle cx="432.1" cy="318.6" r="6.15"/>
<circle cx="439.6" cy="335.7" r="6.15"/>
<circle cx="432.1" cy="344.3" r="6.15"/>
<circle cx="421.4" cy="340.0" r="6.15"/>
<circle cx="412.9" cy="342.1" r="6.15"/>
<circle cx="430.0" cy="329.3" r="6.15"/>
<circle cx="392.9" cy="299.7" r="6.15"/>
<circle cx="396.3" cy="307.8" r="6.15"/>
<circle cx="387.2" cy="307.8" r="6.15"/>
<circle cx="391.7" cy="319.2" r="6.15"/>
<circle cx="383.7" cy="315.8" r="6.15"/>
<circle cx="399.7" cy="304.3" r="6.15"/>
<circle cx="407.8" cy="338.6" r="6.15"/>
<circle cx="404.3" cy="334.1" r="6.15"/>
<circle cx="553.5" cy="408.6" r="6.15"/>
<circle cx="551.8" cy="400.6" r="6.15"/>
<circle cx="515.2" cy="397.2" r="6.15"/>
<circle cx="514.1" cy="408.6" r="6.15"/>
<circle cx="553.0" cy="351.4" r="6.15"/>
<circle cx="554.1" cy="374.3" r="6.15"/>
<circle cx="649.6" cy="380.1" r="6.15"/>
</g></svg></body></html>
